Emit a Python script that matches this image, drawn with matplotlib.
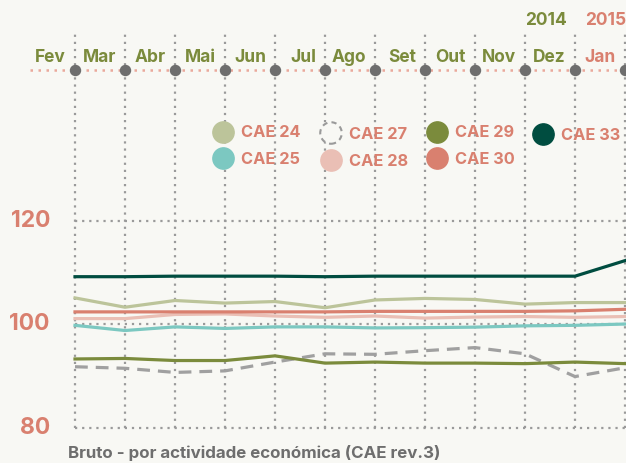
import matplotlib.pyplot as plt

# meses (cada ponto está na linha vertical à direita do rótulo)
months = ['Fev', 'Mar', 'Abr', 'Mai', 'Jun', 'Jul', 'Ago', 'Set', 'Out', 'Nov', 'Dez', 'Jan']
y_ticks = [80, 100, 120]

cae24 = [105.1, 103.3, 104.6, 104.1, 104.4, 103.2, 104.7, 105.0, 104.8, 103.9, 104.2, 104.2]
cae25 = [99.8, 98.8, 99.5, 99.2, 99.5, 99.5, 99.3, 99.35, 99.45, 99.7, 99.8, 100.05]
cae27 = [91.8, 91.5, 90.7, 91.0, 92.7, 94.3, 94.2, 94.9, 95.5, 94.3, 89.9, 91.6]
cae28 = [101.1, 101.1, 101.9, 102.0, 101.6, 101.35, 101.6, 101.2, 101.4, 101.5, 101.35, 101.5]
cae29 = [93.3, 93.4, 93.0, 93.0, 93.9, 92.5, 92.7, 92.5, 92.5, 92.4, 92.7, 92.4]
cae30 = [102.4, 102.4, 102.4, 102.4, 102.4, 102.4, 102.5, 102.5, 102.5, 102.5, 102.6, 102.9]
cae33 = [109.2, 109.2, 109.3, 109.3, 109.3, 109.2, 109.3, 109.3, 109.3, 109.3, 109.3, 112.3]

BG = '#f8f8f4'
OLIVE = '#7b8b3c'
SALMON = '#d9806f'
GREY = '#6e6e6e'

plt.rcParams['font.family'] = ['Inter', 'DejaVu Sans']
plt.rcParams['font.weight'] = 'bold'

fig = plt.figure(figsize=(6.26, 4.63), dpi=100, facecolor=BG)
ax = fig.add_axes([0, 0, 1, 1])
ax.set_facecolor(BG)
ax.axis('off')


# pixel -> dados (só para posicionar textos e enfeites)
def px(x, y):
    return (x - 75) / 50.0, 100 + (324.3 - y) / 5.175


x0, y_top = px(0, 0)
x1, y_bot = px(626, 463)
ax.set_xlim(x0, x1)
ax.set_ylim(y_bot, y_top)

idx = list(range(len(months)))
_, v_axis = px(0, 70)
_, v_vtop = px(0, 31)

# grelha
ax.vlines(idx, 80, v_vtop, colors='#9a9a9a', linestyles=(0, (1, 2.2)), lw=1.6, zorder=1)
ax.hlines(y_ticks, 0, x1 + 1, colors='#9a9a9a', linestyles=(0, (1, 2.2)), lw=1.6, zorder=1)
xa, _ = px(30, 0)
ax.hlines(v_axis, xa, x1 + 1, colors='#eaa99c', linestyles=(0, (1, 2.2)), lw=1.8, zorder=1)
ax.scatter(idx, [v_axis] * len(idx), s=52, color=GREY, zorder=3, clip_on=False)

for i, m in enumerate(months):
    col = SALMON if m == 'Jan' else OLIVE
    ax.text(i - 0.18, px(0, 58)[1], m, ha='right', va='center', fontsize=12.5, color=col)
ax.text(10 - 0.16, px(0, 20)[1], '2014', ha='right', va='center', fontsize=12.5, color=OLIVE)
ax.text(px(585, 0)[0], px(0, 20)[1], '2015', ha='left', va='center', fontsize=12.5, color=SALMON)

for t in y_ticks:
    ax.text(px(50, 0)[0], t, str(t), ha='right', va='center', fontsize=16.5, color=SALMON)

# séries
series = [
    (cae27, '#a0a0a0', '--'),
    (cae29, '#7b8b3c', '-'),
    (cae25, '#7cc8c1', '-'),
    (cae28, '#eabfb5', '-'),
    (cae24, '#bcc49a', '-'),
    (cae30, '#d9806f', '-'),
    (cae33, '#004d40', '-'),
]
for vals, c, ls in series:
    ax.plot(idx, vals, color=c, ls=ls, lw=2.3, zorder=2, clip_on=True,
            dashes=(4, 2.5) if ls == '--' else (None, None))

# legenda
legend = [
    ('CAE 24', '#bcc49a', 223, 132, False),
    ('CAE 25', '#7cc8c1', 223, 158, False),
    ('CAE 27', BG, 331, 133, True),
    ('CAE 28', '#eabfb5', 331, 160, False),
    ('CAE 29', '#7b8b3c', 437, 132, False),
    ('CAE 30', '#d9806f', 437, 158, False),
    ('CAE 33', '#004d40', 543, 134, False),
]
for lab, c, lx, ly, dashed in legend:
    mx, my = px(lx, ly)
    if dashed:
        ax.scatter(mx, my, s=240, facecolor=BG, edgecolor='#9a9a9a', linewidth=1.5,
                   linestyle=(0, (2.5, 2)), zorder=4)
    else:
        ax.scatter(mx, my, s=235, color=c, zorder=4)
    tx, ty = px(lx + 18, ly + 1)
    ax.text(tx, ty, lab, ha='left', va='center', fontsize=11.8, color=SALMON)

ax.text(px(68, 0)[0], px(0, 453)[1], 'Bruto - por actividade económica (CAE rev.3)',
        ha='left', va='center', fontsize=12.2, color=GREY)

fig.savefig('out.png', dpi=100, facecolor=BG)
